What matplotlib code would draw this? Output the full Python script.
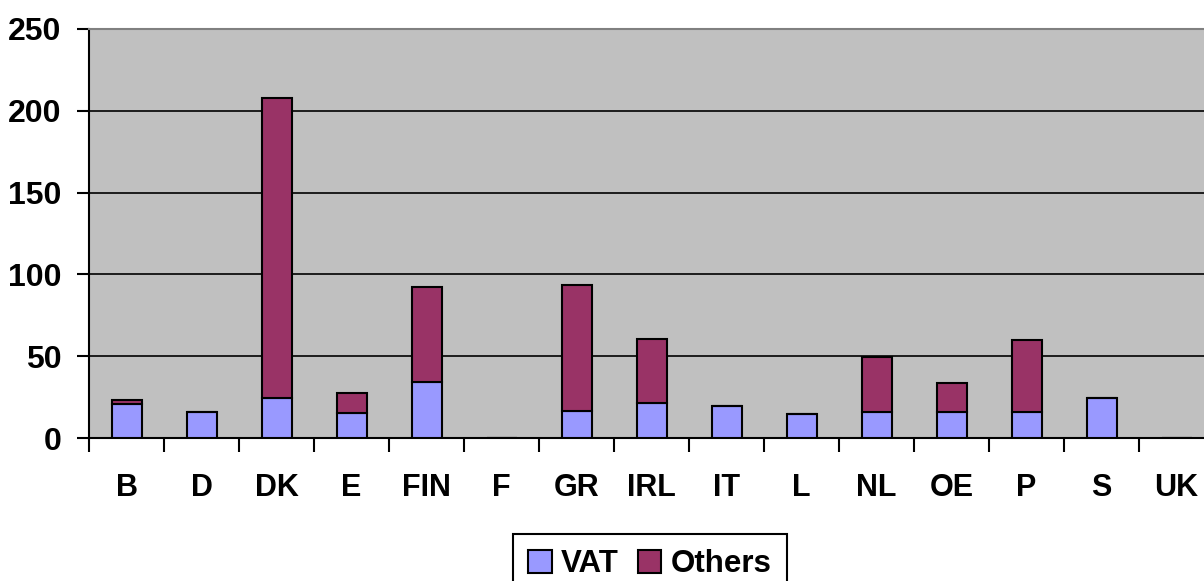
import matplotlib.pyplot as plt
import numpy as np

# 数据
countries = ['B', 'D', 'DK', 'E', 'FIN', 'F', 'GR', 'IRL', 'IT', 'L', 'NL', 'OE', 'P', 'S', 'UK']
vat = [21, 16, 24.5, 15.5, 34.5, 0, 16.5, 21.5, 19.5, 14.5, 16, 16, 16, 24.5, 0]
others = [2, 0, 183.5, 12, 57.5, 0, 77, 39, 0, 0, 33.5, 17.5, 44, 0, 0]

plt.rcParams['font.family'] = ['Liberation Sans', 'DejaVu Sans']
plt.rcParams['font.weight'] = 'bold'

fig = plt.figure(figsize=(12.04, 5.81), dpi=100)
ax = fig.add_axes([89 / 1204, 1 - 438 / 581, 1125 / 1204, 409 / 581])

x = np.arange(len(countries))
ax.bar(x, vat, width=0.4, color='#9999FF', edgecolor='black', linewidth=1.5, label='VAT', zorder=3)
ax.bar(x, others, width=0.4, bottom=vat, color='#993366', edgecolor='black', linewidth=1.5,
       label='Others', zorder=3)

ax.set_facecolor('#C0C0C0')
ax.set_xlim(-0.5, len(countries) - 0.5)
ax.set_ylim(0, 250)
ax.set_yticks([0, 50, 100, 150, 200, 250])
ax.yaxis.grid(True, color='black', linewidth=1.2, zorder=1)

# 类别刻度在分界处
ax.set_xticks(np.arange(len(countries) + 1) - 0.5)
ax.set_xticklabels([])
ax.set_xticks(x, minor=True)
ax.set_xticklabels(countries, minor=True, fontsize=22, fontweight='bold')
ax.tick_params(axis='x', which='minor', length=0, pad=25)
ax.tick_params(axis='x', which='major', direction='out', length=10, width=1.5)
ax.tick_params(axis='y', direction='out', length=9, width=1.5, labelsize=23, pad=11)
for lab in ax.get_yticklabels():
    lab.set_fontweight('bold')

ax.spines['left'].set_linewidth(1.5)
ax.spines['bottom'].set_linewidth(1.5)
ax.spines['top'].set_color('#808080')
ax.spines['top'].set_linewidth(1.5)
ax.spines['right'].set_visible(False)

# 图例
leg = fig.legend(loc='upper center', bbox_to_anchor=(650 / 1204, 1 - 534 / 581), ncol=2,
                 frameon=True, fancybox=False, edgecolor='black', framealpha=1, fontsize=22.5,
                 handlelength=0.75, handleheight=0.75, handletextpad=0.3, columnspacing=0.6,
                 borderpad=0.48, borderaxespad=0)
leg.get_frame().set_linewidth(1.5)
for t in leg.get_texts():
    t.set_fontweight('bold')

plt.savefig('out.png', dpi=100)
